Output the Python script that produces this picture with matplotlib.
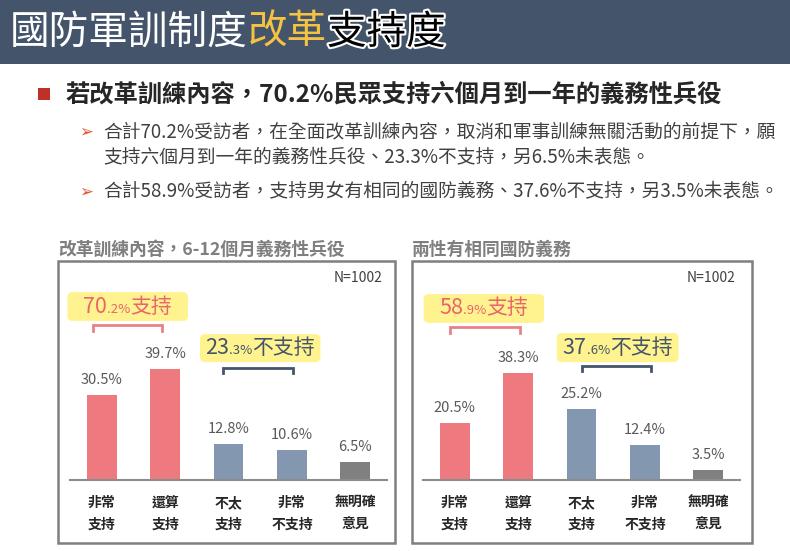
import matplotlib
matplotlib.use('Agg')
import matplotlib.pyplot as plt
import matplotlib.patheffects as pe
from matplotlib.patches import Rectangle, FancyBboxPatch
from matplotlib.offsetbox import TextArea, HPacker, AnnotationBbox

plt.rcParams['font.family'] = ['Noto Sans CJK TC', 'DejaVu Sans']

# 資料
categorias = [('非常', '支持'), ('還算', '支持'), ('不太', '支持'), ('非常', '不支持'), ('無明確', '意見')]
reforma = [30.5, 39.7, 12.8, 10.6, 6.5]
genero = [20.5, 38.3, 25.2, 12.4, 3.5]
titulos_panel = ['改革訓練內容，6-12個月義務性兵役', '兩性有相同國防義務']
apoyo = [('70', '.2%', '支持'), ('58', '.9%', '支持')]
rechazo = [('23', '.3%', '不支持'), ('37', '.6%', '不支持')]

ROJO = '#EE7A80'
AZUL = '#8497B0'
GRIS = '#808080'
colores = [ROJO, ROJO, AZUL, AZUL, GRIS]
OSCURO = '#44546A'
AMARILLO = '#FFF38F'
TXT_ROJO = '#E9646C'

W, H = 790, 551
fig = plt.figure(figsize=(W / 100, H / 100), dpi=100)


def px(x, y):
    # pixeles desde arriba-izquierda a fraccion de figura
    return x / W, 1 - y / H


def mixto(target, partes, xy, xycoords, alinea=(0.5, 0.5)):
    cajas = [TextArea(s, textprops=p) for s, p in partes]
    pk = HPacker(children=cajas, align='baseline', pad=0, sep=0)
    ab = AnnotationBbox(pk, xy, xycoords=xycoords, frameon=False,
                        box_alignment=alinea, pad=0, annotation_clip=False)
    target.add_artist(ab)


# Encabezado
fig.add_artist(Rectangle((0, 1 - 64 / H), 1, 64 / H, transform=fig.transFigure,
                         facecolor='#44546A', edgecolor='none'))
mixto(fig, [('國防軍訓制度', dict(color='white', fontsize=28.5)),
            ('改革', dict(color='#F5C242', fontsize=28.5)),
            ('支持度', dict(color='black', fontsize=28.5,
                          path_effects=[pe.withStroke(linewidth=3, foreground='white')]))],
      (10, H - 33), 'figure pixels', alinea=(0, 0.5))

# Viñeta principal
fig.add_artist(Rectangle(px(38, 100), 12 / W, 12 / H, transform=fig.transFigure,
                         facecolor='#C0302B', edgecolor='none'))
fig.text(*px(66, 95), '若改革訓練內容，70.2%民眾支持六個月到一年的義務性兵役',
         fontsize=17.5, fontweight='bold', color='#262626', va='center')

lineas = [(132, '合計70.2%受訪者，在全面改革訓練內容，取消和軍事訓練無關活動的前提下，願'),
          (157, '支持六個月到一年的義務性兵役、23.3%不支持，另6.5%未表態。'),
          (192, '合計58.9%受訪者，支持男女有相同的國防義務、37.6%不支持，另3.5%未表態。')]
for y, s in lineas:
    fig.text(*px(103, y), s, fontsize=13.5, color='#404040', va='center')
for y in (132, 192):
    fig.text(*px(79, y), '➢', fontsize=12, color='#E0572E', va='center',
             family='DejaVu Sans')

# Paneles
paneles = [(58, 395, reforma, 70), (412, 752, genero, 423)]
cajas_apoyo = [(-0.54, 1.36, 56.8, 67.1), (-0.49, 1.41, 56.1, 66.4)]
cajas_rechazo = [(1.55, 3.45, 42.1, 52.1), (1.61, 3.53, 42.1, 52.5)]
llaves_apoyo = [(-0.14, 0.95, 55.4, 53.2), (-0.08, 1.03, 54.6, 52.5)]
llaves_rechazo = [(1.91, 3.02, 40.0, 38.2), (2.0, 3.1, 40.7, 38.9)]

for k, (x0, x1, valores, ax_x) in enumerate(paneles):
    fig.add_artist(Rectangle(px(x0, 543), (x1 - x0) / W, (543 - 261) / H,
                             transform=fig.transFigure, facecolor='none',
                             edgecolor='#7F7F7F', linewidth=1.8))
    fig.text(*px(x0, 250), titulos_panel[k], fontsize=12.8, fontweight='bold',
             color='#7F7F7F', va='center')

    escala = 2.8  # px por %
    ax = fig.add_axes([ax_x / W, (H - 480) / H, 317 / W, 72 * escala / H])
    ax.set_xlim(-0.5, 4.5)
    ax.set_ylim(0, 72)
    ax.patch.set_alpha(0)
    for s in ['top', 'right', 'left']:
        ax.spines[s].set_visible(False)
    ax.spines['bottom'].set_color('#8C8C8C')
    ax.spines['bottom'].set_linewidth(1.5)
    ax.set_xticks([])
    ax.set_yticks([])

    xs = range(len(valores))
    ax.bar(xs, valores, width=0.47, color=colores)
    for i, v in zip(xs, valores):
        ax.annotate(f'{v:.1f}%', (i, v), xytext=(0, 15), textcoords='offset pixels',
                    ha='center', va='center', fontsize=10.5, color='#595959')
        l1, l2 = categorias[i]
        ax.annotate(l1, (i, 0), xytext=(0, -23), textcoords='offset pixels',
                    ha='center', va='center', fontsize=10, fontweight='bold',
                    color='#262626', annotation_clip=False)
        ax.annotate(l2, (i, 0), xytext=(0, -45), textcoords='offset pixels',
                    ha='center', va='center', fontsize=10, fontweight='bold',
                    color='#262626', annotation_clip=False)

    ax.text(0.987, 1.0, 'N=1002', transform=ax.transAxes, ha='right', va='center',
            fontsize=10, color='#404040')

    # cajas amarillas
    asp = (5 / escala) / (5 / 63.25)
    for (bx0, bx1, by0, by1), partes, col in [(cajas_apoyo[k], apoyo[k], TXT_ROJO),
                                              (cajas_rechazo[k], rechazo[k], OSCURO)]:
        ax.add_patch(FancyBboxPatch((bx0, by0), bx1 - bx0, by1 - by0,
                                    boxstyle='round,pad=0,rounding_size=0.08',
                                    mutation_aspect=asp, facecolor=AMARILLO,
                                    edgecolor='none', clip_on=False))
        a, b, c = partes
        mixto(ax, [(a, dict(color=col, fontsize=15.5)),
                   (b, dict(color=col, fontsize=9.5)),
                   (c, dict(color=col, fontsize=15)),],
              ((bx0 + bx1) / 2, (by0 + by1) / 2), 'data')

    # llaves
    for (lx0, lx1, ly, ly2), col in [(llaves_apoyo[k], '#E8828A'), (llaves_rechazo[k], OSCURO)]:
        ax.plot([lx0, lx0, lx1, lx1], [ly2, ly, ly, ly2], color=col, lw=2,
                clip_on=False, solid_joinstyle='miter')

plt.savefig('out.png', dpi=100)
